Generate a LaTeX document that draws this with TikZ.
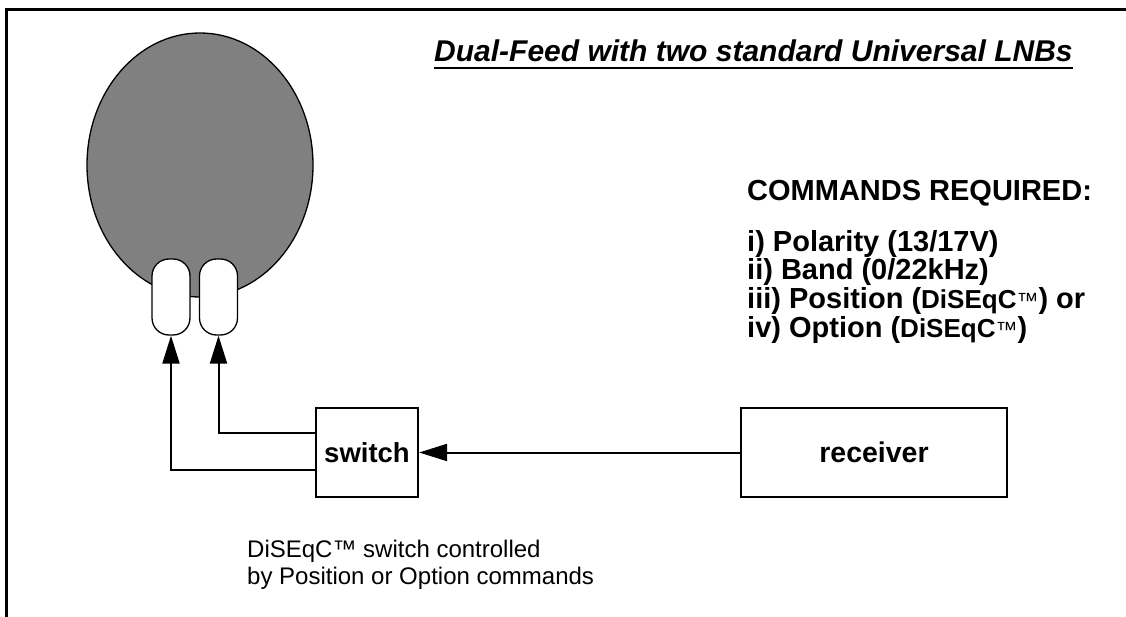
\documentclass[tikz,border=0pt]{standalone}
\usepackage{fontspec}
\setmainfont{Liberation Sans}
\usetikzlibrary{arrows.meta,calc}
\definecolor{dishgray}{HTML}{808080}
\newcommand{\dsq}{\fontsize{26}{26}\selectfont}
\newcommand{\tmk}{\fontsize{22}{22}\selectfont\mdseries}
\begin{document}
\begin{tikzpicture}[x=1pt,y=-1pt,
  frame/.style={line width=3pt},
  box/.style={draw, line width=2.2pt, minimum width=102pt, minimum height=89pt, inner sep=0pt},
  feed/.style={draw, fill=white, line width=1.3pt, rounded corners=17pt, minimum width=38pt, minimum height=76pt, inner sep=0pt},
  conn/.style={line width=2pt},
  tip/.style={-{Triangle[length=28pt,width=17pt]}},
  cmd/.style={font=\fontsize{29}{30}\selectfont\bfseries, anchor=base west, inner sep=0pt},
  note/.style={font=\fontsize{24}{26}\selectfont, anchor=base west, inner sep=0pt}]
\useasboundingbox (0,0) rectangle (1126,617);
\draw[frame] (6,625) -- (6,10) -- (1135,10);
% dish
\draw[fill=dishgray, line width=1.3pt] (200,165) ellipse [x radius=113pt, y radius=132pt];
% feeds
\node[feed] (f1) at (171,297) {};
\node[feed] (f2) at (218.5,297) {};
% boxes
\node[box] (sw) at (367,452.5) {\fontsize{27.5}{27.5}\selectfont\bfseries switch};
\node[box, minimum width=266pt] (rx) at (874,452.5) {\fontsize{28.5}{28.5}\selectfont\bfseries receiver\hspace{34pt}};
% connectors
\coordinate (j1) at (0,470);
\coordinate (j2) at (0,433);
\draw[conn,tip] (rx.west) -- (sw.east);
\draw[conn,tip] (sw.west |- j1) -| (f1.south);
\draw[conn,tip] (sw.west |- j2) -| (f2.south);
% title
\node[font=\fontsize{30}{30}\selectfont\bfseries\itshape, anchor=base west, inner sep=0pt] (title) at (434,62) {Dual-Feed with two standard Universal LNBs};
\draw[line width=2.5pt] ($(title.base west)+(0,6)$) -- ($(title.base east)+(0,6)$);
% commands
\node[cmd] (c0) at (747,201) {COMMANDS REQUIRED:};
\node[cmd] (c1) at (747,252) {i) Polarity (13/17V)};
\node[cmd] (c2) at (747,280) {ii) Band (0/22kHz)};
\node[cmd] (c3) at (747,308.5) {iii) Position ({\dsq DiSEqC}{\tmk ™}) or};
\node[cmd] (c4) at (747,337) {iv) Option ({\dsq DiSEqC}{\tmk ™})};
% note
\node[note] (n1) at (247,557) {DiSEqC™ switch controlled};
\node[note] (n2) at (247,584) {by Position or Option commands};
\end{tikzpicture}
\end{document}
